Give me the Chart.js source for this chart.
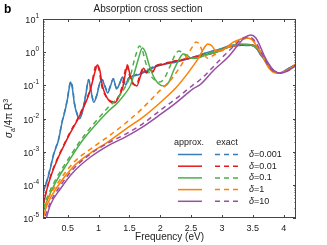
<!DOCTYPE html>
<html>
<head>
<meta charset="utf-8">
<script src="https://cdn.jsdelivr.net/npm/chart.js@4.4.0/dist/chart.umd.min.js"></script>
<style>
  html, body { margin: 0; padding: 0; background: #fff; }
</style>
</head>
<body>
<canvas id="chart" width="327" height="245"></canvas>
<script>
// tick labels
var xTicks = [0.5, 1, 1.5, 2, 2.5, 3, 3.5, 4];
var yDecades = [-5, -4, -3, -2, -1, 0, 1];

var deltaLabels = ['0.001', '0.01', '0.1', '1', '10'];
var colors = ['#377eb8', '#e41a1c', '#4daf4a', '#ff7f00', '#984ea3'];

// delta = 0.001
var freqBlueApprox = [0.1, 0.17, 0.22, 0.28, 0.35, 0.41, 0.46, 0.50, 0.53, 0.545, 0.575, 0.61, 0.66, 0.69, 0.74, 0.79, 0.84, 0.87, 0.92, 0.97, 1.02, 1.06, 1.10, 1.15, 1.19, 1.24, 1.29, 1.34, 1.39, 1.44, 1.49, 1.57, 1.68, 1.84, 2.01, 2.25, 2.50, 2.74, 2.98, 3.18, 3.39, 3.52, 3.63, 3.75, 3.85, 3.93, 4.04, 4.12, 4.22];
var sigmaBlueApprox = [5.7e-5, 1.4e-4, 3.2e-4, 9.1e-4, 2.2e-3, 7.8e-3, 0.018, 0.042, 0.095, 0.126, 0.083, 0.027, 0.012, 0.0098, 0.016, 0.048, 0.145, 0.083, 0.031, 0.048, 0.117, 0.145, 0.095, 0.059, 0.09, 0.155, 0.078, 0.11, 0.178, 0.102, 0.166, 0.19, 0.22, 0.31, 0.41, 0.50, 0.66, 0.94, 1.25, 1.64, 1.64, 1.53, 0.82, 0.41, 0.27, 0.234, 0.29, 0.36, 0.44];
var freqBlueExact = [0.1, 0.17, 0.22, 0.28, 0.35, 0.41, 0.46, 0.50, 0.53, 0.55, 0.58, 0.61, 0.66, 0.69, 0.74, 0.79, 0.84, 0.87, 0.92, 0.97, 1.02, 1.06, 1.10, 1.15, 1.19, 1.24, 1.29, 1.34, 1.39, 1.44, 1.49, 1.57, 1.68, 1.84, 2.01, 2.25, 2.50, 2.74, 2.98, 3.18, 3.39, 3.52, 3.63, 3.75, 3.85, 3.93, 4.04, 4.12, 4.22];
var sigmaBlueExact = [6.0e-5, 1.5e-4, 3.4e-4, 9.6e-4, 2.3e-3, 8.2e-3, 0.019, 0.044, 0.10, 0.13, 0.085, 0.029, 0.013, 0.011, 0.017, 0.05, 0.15, 0.09, 0.034, 0.05, 0.12, 0.15, 0.10, 0.064, 0.095, 0.16, 0.085, 0.115, 0.18, 0.11, 0.17, 0.20, 0.235, 0.33, 0.44, 0.53, 0.68, 0.95, 1.25, 1.6, 1.6, 1.5, 0.82, 0.41, 0.27, 0.234, 0.29, 0.36, 0.44];

// delta = 0.01
var freqRedApprox = [0.1, 0.17, 0.25, 0.33, 0.43, 0.54, 0.66, 0.755, 0.84, 0.90, 0.95, 0.98, 1.02, 1.06, 1.13, 1.19, 1.26, 1.32, 1.39, 1.44, 1.47, 1.50, 1.55, 1.62, 1.68, 1.73, 1.78, 1.83, 1.88, 1.93, 2.01, 2.17, 2.42, 2.66, 2.90, 3.11, 3.31, 3.50, 3.60, 3.70, 3.79, 3.93, 4.06, 4.22];
var sigmaRedApprox = [2.3e-5, 8.1e-5, 2.4e-4, 5.6e-4, 1.4e-3, 3.6e-3, 9.1e-3, 0.021, 0.051, 0.126, 0.29, 0.41, 0.29, 0.102, 0.045, 0.032, 0.030, 0.042, 0.083, 0.25, 0.41, 0.25, 0.126, 0.096, 0.19, 0.33, 0.235, 0.31, 0.25, 0.38, 0.41, 0.50, 0.62, 0.77, 1.0, 1.43, 1.64, 1.64, 1.16, 0.58, 0.33, 0.234, 0.29, 0.44];
var freqRedExact = [0.1, 0.17, 0.25, 0.33, 0.43, 0.54, 0.66, 0.755, 0.84, 0.90, 0.94, 0.97, 1.01, 1.05, 1.12, 1.19, 1.26, 1.32, 1.38, 1.43, 1.46, 1.49, 1.54, 1.61, 1.67, 1.72, 1.77, 1.82, 1.87, 1.92, 2.01, 2.17, 2.42, 2.66, 2.90, 3.11, 3.31, 3.50, 3.60, 3.70, 3.79, 3.93, 4.06, 4.22];
var sigmaRedExact = [2.5e-5, 8.6e-5, 2.6e-4, 6.0e-4, 1.5e-3, 3.9e-3, 9.8e-3, 0.023, 0.056, 0.14, 0.32, 0.42, 0.28, 0.10, 0.046, 0.034, 0.032, 0.045, 0.09, 0.27, 0.40, 0.24, 0.12, 0.10, 0.20, 0.32, 0.24, 0.32, 0.26, 0.38, 0.42, 0.51, 0.63, 0.78, 1.0, 1.43, 1.62, 1.6, 1.14, 0.58, 0.33, 0.234, 0.29, 0.44];

// delta = 0.1
var freqGreenApprox = [0.1, 0.17, 0.30, 0.50, 0.71, 0.92, 1.15, 1.31, 1.44, 1.52, 1.58, 1.65, 1.71, 1.76, 1.81, 1.88, 1.96, 2.06, 2.14, 2.22, 2.30, 2.37, 2.43, 2.50, 2.59, 2.74, 2.90, 3.11, 3.31, 3.47, 3.59, 3.70, 3.79, 3.93, 4.06, 4.22];
var sigmaGreenApprox = [1.5e-5, 3.5e-5, 1.14e-4, 4.6e-4, 1.83e-3, 5.5e-3, 0.016, 0.030, 0.059, 0.102, 0.235, 0.67, 1.34, 1.0, 0.47, 0.205, 0.117, 0.095, 0.126, 0.29, 0.58, 0.88, 0.82, 0.66, 0.66, 0.82, 1.0, 1.43, 1.76, 1.64, 1.23, 0.58, 0.33, 0.234, 0.29, 0.44];
var freqGreenExact = [0.1, 0.17, 0.30, 0.50, 0.71, 0.92, 1.15, 1.31, 1.44, 1.52, 1.58, 1.63, 1.66, 1.71, 1.76, 1.83, 1.91, 1.99, 2.07, 2.16, 2.24, 2.30, 2.37, 2.46, 2.58, 2.74, 2.90, 3.11, 3.31, 3.47, 3.59, 3.70, 3.79, 3.93, 4.06, 4.22];
var sigmaGreenExact = [1.9e-5, 4.3e-5, 1.4e-4, 5.6e-4, 2.2e-3, 6.8e-3, 0.021, 0.042, 0.095, 0.205, 0.58, 1.16, 1.53, 1.16, 0.51, 0.22, 0.145, 0.126, 0.166, 0.38, 0.82, 1.08, 0.94, 0.66, 0.66, 0.88, 1.08, 1.43, 1.64, 1.64, 1.23, 0.58, 0.33, 0.234, 0.29, 0.44];

// delta = 1
var freqOrangeApprox = [0.1, 0.17, 0.33, 0.59, 0.87, 1.15, 1.44, 1.72, 1.97, 2.25, 2.41, 2.53, 2.63, 2.71, 2.77, 2.84, 2.90, 2.98, 3.08, 3.19, 3.31, 3.41, 3.49, 3.57, 3.67, 3.76, 3.88, 3.99, 4.12, 4.22];
var sigmaOrangeApprox = [1.0e-5, 2.6e-5, 8.6e-5, 3.5e-4, 9.1e-4, 1.95e-3, 4.8e-3, 0.011, 0.027, 0.083, 0.19, 0.38, 0.71, 1.34, 1.76, 1.53, 1.08, 1.08, 1.43, 2.03, 2.5, 2.67, 2.33, 1.43, 0.67, 0.33, 0.234, 0.25, 0.33, 0.47];
var freqOrangeExact = [0.1, 0.17, 0.33, 0.59, 0.87, 1.15, 1.44, 1.72, 1.97, 2.17, 2.33, 2.45, 2.53, 2.58, 2.63, 2.69, 2.77, 2.87, 2.98, 3.11, 3.24, 3.36, 3.44, 3.52, 3.60, 3.70, 3.80, 3.91, 4.04, 4.22];
var sigmaOrangeExact = [1.15e-5, 3.3e-5, 1.06e-4, 4.6e-4, 1.2e-3, 2.8e-3, 7.3e-3, 0.021, 0.063, 0.145, 0.38, 0.88, 1.53, 2.03, 1.76, 1.0, 0.66, 0.82, 1.08, 1.43, 2.03, 2.5, 2.67, 2.17, 1.23, 0.58, 0.31, 0.234, 0.27, 0.47];

// delta = 10
var freqPurpleApprox = [0.154, 0.22, 0.38, 0.59, 0.87, 1.15, 1.44, 1.71, 1.97, 2.25, 2.53, 2.66, 2.87, 3.10, 3.26, 3.36, 3.47, 3.55, 3.61, 3.68, 3.76, 3.85, 3.96, 4.09, 4.22];
var sigmaPurpleApprox = [1.0e-5, 2.5e-5, 7.5e-5, 2.4e-4, 6.9e-4, 1.5e-3, 2.8e-3, 5.5e-3, 0.012, 0.029, 0.078, 0.11, 0.29, 0.71, 1.64, 2.67, 3.3, 2.67, 1.64, 0.82, 0.44, 0.27, 0.234, 0.29, 0.41];
var freqPurpleExact = [0.137, 0.22, 0.38, 0.59, 0.87, 1.15, 1.44, 1.71, 1.97, 2.25, 2.53, 2.66, 2.87, 3.06, 3.23, 3.34, 3.44, 3.52, 3.60, 3.68, 3.78, 3.89, 4.06, 4.22];
var sigmaPurpleExact = [1.15e-5, 3.0e-5, 9.3e-5, 3.0e-4, 8.5e-4, 1.8e-3, 3.4e-3, 6.8e-3, 0.016, 0.039, 0.102, 0.155, 0.38, 0.88, 1.76, 2.67, 2.87, 2.33, 1.34, 0.67, 0.33, 0.234, 0.27, 0.44];

var FONT = '"Liberation Sans", Arial, Helvetica, sans-serif';
var TEXT = '#222';

function series(xs, ys, color, dashed, order) {
    return {
        data: xs.map(function (x, i) { return { x: x, y: ys[i] }; }),
        borderColor: color,
        borderWidth: 1.5,
        borderDash: dashed ? [5, 4] : [],
        pointRadius: 0,
        fill: false,
        cubicInterpolationMode: 'monotone',
        order: order
    };
}

var datasets = [
    series(freqBlueApprox, sigmaBlueApprox, colors[0], false, 10),
    series(freqBlueExact, sigmaBlueExact, colors[0], true, 9),
    series(freqRedApprox, sigmaRedApprox, colors[1], false, 8),
    series(freqRedExact, sigmaRedExact, colors[1], true, 7),
    series(freqGreenApprox, sigmaGreenApprox, colors[2], false, 6),
    series(freqGreenExact, sigmaGreenExact, colors[2], true, 5),
    series(freqOrangeApprox, sigmaOrangeApprox, colors[3], false, 4),
    series(freqOrangeExact, sigmaOrangeExact, colors[3], true, 3),
    series(freqPurpleApprox, sigmaPurpleApprox, colors[4], false, 2),
    series(freqPurpleExact, sigmaPurpleExact, colors[4], true, 1)
];

// frame, inward ticks, y labels with exponents, legend
var decorations = {
    id: 'decorations',
    afterDraw: function (chart) {
        var ctx = chart.ctx;
        var a = chart.chartArea;
        var xs = chart.scales.x, ys = chart.scales.y;
        ctx.save();
        ctx.strokeStyle = '#444';
        ctx.lineWidth = 1;
        ctx.strokeRect(a.left + 0.5, a.top + 0.5, a.right - a.left - 1, a.bottom - a.top - 1);

        ctx.beginPath();
        xTicks.forEach(function (v) {
            var px = Math.round(xs.getPixelForValue(v)) + 0.5;
            ctx.moveTo(px, a.bottom); ctx.lineTo(px, a.bottom - 3);
            ctx.moveTo(px, a.top); ctx.lineTo(px, a.top + 3);
        });
        yDecades.forEach(function (p) {
            var py = Math.round(ys.getPixelForValue(Math.pow(10, p))) + 0.5;
            ctx.moveTo(a.left, py); ctx.lineTo(a.left + 3, py);
            ctx.moveTo(a.right, py); ctx.lineTo(a.right - 3, py);
            if (p < 1) {
                for (var m = 2; m <= 9; m++) {
                    var pm = Math.round(ys.getPixelForValue(m * Math.pow(10, p))) + 0.5;
                    ctx.moveTo(a.left, pm); ctx.lineTo(a.left + 1.5, pm);
                    ctx.moveTo(a.right, pm); ctx.lineTo(a.right - 1.5, pm);
                }
            }
        });
        ctx.stroke();

        // y tick labels 10^p
        ctx.fillStyle = TEXT;
        ctx.textBaseline = 'alphabetic';
        ctx.textAlign = 'left';
        yDecades.forEach(function (p) {
            var py = ys.getPixelForValue(Math.pow(10, p));
            var exp = String(p);
            ctx.font = '6.5px ' + FONT;
            var ew = ctx.measureText(exp).width;
            ctx.font = '9px ' + FONT;
            var bw = ctx.measureText('10').width;
            var xEnd = a.left - 4;
            ctx.fillText('10', xEnd - ew - bw, py + 4);
            ctx.font = '6.5px ' + FONT;
            ctx.fillText(exp, xEnd - ew, py - 1);
        });

        // panel letter
        ctx.font = 'bold 12px ' + FONT;
        ctx.fillStyle = '#000';
        ctx.fillText('b', 4, 13);

        // y axis title: sigma_a / 4 pi R^3
        ctx.save();
        ctx.translate(12, (a.top + a.bottom) / 2);
        ctx.rotate(-Math.PI / 2);
        ctx.fillStyle = TEXT;
        var parts = [
            { t: '\u03c3', f: 'italic 10px ' + FONT, dy: 0 },
            { t: 'a', f: '7px ' + FONT, dy: 3 },
            { t: '/4\u03c0 R', f: '10px ' + FONT, dy: 0 },
            { t: '3', f: '7px ' + FONT, dy: -4 }
        ];
        var total = 0;
        parts.forEach(function (q) { ctx.font = q.f; q.w = ctx.measureText(q.t).width; total += q.w; });
        var cx = -total / 2;
        parts.forEach(function (q) { ctx.font = q.f; ctx.fillText(q.t, cx, q.dy); cx += q.w; });
        ctx.restore();

        // legend
        ctx.font = '9px ' + FONT;
        ctx.fillStyle = TEXT;
        ctx.textAlign = 'center';
        ctx.textBaseline = 'middle';
        ctx.fillText('approx.', 189, 143);
        ctx.fillText('exact', 227, 143);
        ctx.textAlign = 'left';
        for (var i = 0; i < deltaLabels.length; i++) {
            var ry = 154.5 + i * 11.7;
            ctx.strokeStyle = colors[i];
            ctx.lineWidth = 1.5;
            ctx.setLineDash([]);
            ctx.beginPath(); ctx.moveTo(178, ry); ctx.lineTo(202, ry); ctx.stroke();
            ctx.setLineDash([5, 4]);
            ctx.beginPath(); ctx.moveTo(215, ry); ctx.lineTo(239, ry); ctx.stroke();
            ctx.setLineDash([]);
            ctx.font = 'italic 9px ' + FONT;
            ctx.fillText('\u03b4', 249, ry);
            var dw = ctx.measureText('\u03b4').width;
            ctx.font = '9px ' + FONT;
            ctx.fillText('=' + deltaLabels[i], 249 + dw, ry);
        }
        ctx.restore();
    }
};

new Chart(document.getElementById('chart').getContext('2d'), {
    type: 'line',
    data: { datasets: datasets },
    options: {
        responsive: false,
        animation: false,
        events: [],
        layout: { padding: { left: 0, right: 31, top: 0, bottom: 0 } },
        plugins: {
            legend: { display: false },
            tooltip: { enabled: false },
            title: {
                display: true,
                text: 'Absorption cross section',
                color: TEXT,
                font: { family: FONT, size: 10, weight: 'normal' },
                padding: { top: 3, bottom: 4 }
            }
        },
        scales: {
            x: {
                type: 'linear',
                min: 0.1,
                max: 4.2,
                grid: { display: false, drawTicks: false },
                border: { display: false },
                afterBuildTicks: function (s) { s.ticks = xTicks.map(function (v) { return { value: v }; }); },
                afterFit: function (s) { s.height = 27; },
                ticks: {
                    autoSkip: false,
                    maxRotation: 0,
                    padding: 5,
                    color: TEXT,
                    font: { family: FONT, size: 9 },
                    callback: function (v) { return String(v); }
                },
                title: {
                    display: true,
                    text: 'Frequency (eV)',
                    color: TEXT,
                    font: { family: FONT, size: 10 },
                    padding: { top: 0, bottom: 2 }
                }
            },
            y: {
                type: 'logarithmic',
                min: 1e-5,
                max: 10,
                grid: { display: false, drawTicks: false },
                border: { display: false },
                afterBuildTicks: function (s) { s.ticks = yDecades.map(function (p) { return { value: Math.pow(10, p) }; }); },
                afterFit: function (s) { s.width = 43; },
                ticks: { display: false }
            }
        }
    },
    plugins: [decorations]
});
</script>
</body>
</html>
